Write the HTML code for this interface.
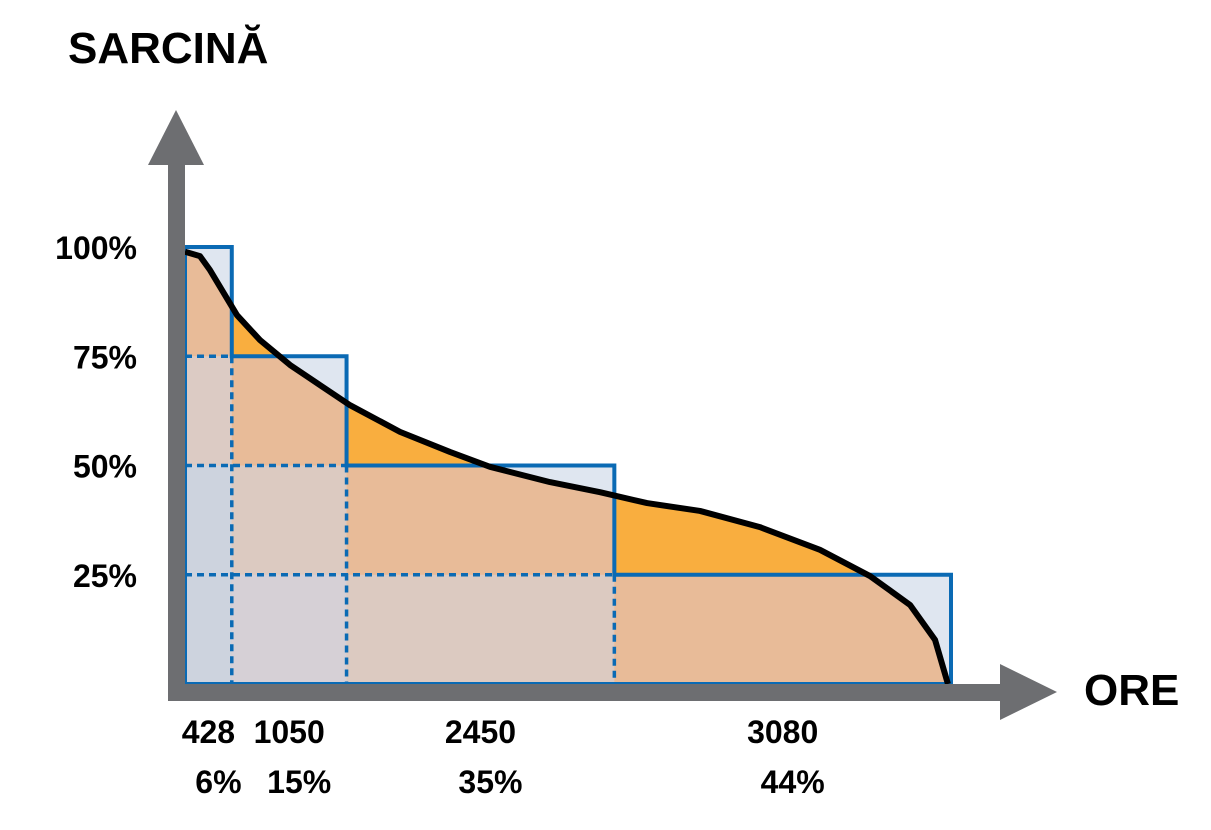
<!DOCTYPE html>
<html><head><meta charset="utf-8"><style>
body{margin:0;background:#fff;}
svg text{font-family:"Liberation Sans",sans-serif;font-weight:bold;fill:#000;}
</style></head><body>
<svg id="chart" width="1211" height="825" viewBox="0 0 1211 825" xmlns="http://www.w3.org/2000/svg">
<defs><clipPath id="stepClip"><path id="stepClipPath"/></clipPath></defs>
<g id="layer"></g>
<text x="68" y="63" font-size="44">SARCINĂ</text>
<text x="1084" y="705" font-size="44">ORE</text>
</svg>
<script>
const segHours=[428,1050,2450,3080];
const segShare=["6%","15%","35%","44%"];
const segLoad=[100,75,50,25];
const yTicks=[100,75,50,25];
const yTickLabels=["100%","75%","50%","25%"];
const curveHours=[0,137,229,476,686,961,1235,1510,1967,2424,2790,3339,3797,4227,4712,5260,5809,6267,6633,6862,6980];
const curveLoad=[98.9,97.9,94.7,84.4,78.7,73,68.4,63.8,57.7,53.1,49.7,46.2,43.9,41.4,39.6,35.9,30.7,24.7,18.1,10.1,0];

const NS="http://www.w3.org/2000/svg";
const X0=185,X1=951,Y0=684,Y100=247;
const total=segHours.reduce((a,b)=>a+b,0);
const xs=h=>X0+h/total*(X1-X0);
const ys=v=>Y0-v/100*(Y0-Y100);
const g=document.getElementById('layer');
function mk(tag,attrs){const e=document.createElementNS(NS,tag);for(const k in attrs)e.setAttribute(k,attrs[k]);g.appendChild(e);return e;}

const bounds=[0];segHours.forEach(h=>bounds.push(bounds[bounds.length-1]+h));
let sp=`M${xs(0)},${ys(0)}`;
segLoad.forEach((v,i)=>{sp+=` L${xs(bounds[i])},${ys(v)} L${xs(bounds[i+1])},${ys(v)}`;});
sp+=` L${xs(bounds[4])},${ys(0)} Z`;
document.getElementById('stepClipPath').setAttribute('d',sp);
let cp=`M${xs(0)},${ys(0)}`;
curveHours.forEach((h,i)=>{cp+=` L${xs(h)},${ys(curveLoad[i])}`;});
cp+=' Z';
let cl=curveHours.map((h,i)=>(i?'L':'M')+xs(h)+','+ys(curveLoad[i])).join(' ');

let e=mk('path',{d:sp,fill:'#dfe6f0'});

e=mk('path',{d:cp,fill:'#f9ae3f'});

e=mk('path',{d:cp,fill:'#e8bb98','clip-path':'url(#stepClip)'});


// tinted grid cells
const tints=[[0,0,75,'#dccbc4'],[0,0,50,'#cdd3de'],[1,0,50,'#dccac1'],[1,0,25,'#d6d0d6'],[2,0,25,'#dccac1']];
tints.forEach(t=>{const r=mk('rect',{x:xs(bounds[t[0]]),y:ys(t[2]),width:xs(bounds[t[0]+1])-xs(bounds[t[0]]),height:ys(t[1])-ys(t[2]),fill:t[3]});
});

// dotted lines
yTicks.slice(1).forEach((v,i)=>{const l=mk('line',{x1:X0,x2:xs(bounds[i+1]),y1:ys(v),y2:ys(v),stroke:'#0a6ab4','stroke-width':3.5,'stroke-dasharray':'7 5'});

const l2=mk('line',{x1:xs(bounds[i+1]),x2:xs(bounds[i+1]),y1:ys(v),y2:Y0,stroke:'#0a6ab4','stroke-width':3.5,'stroke-dasharray':'7 5'});
});

e=mk('path',{d:sp,fill:'none',stroke:'#0a6ab4','stroke-width':4});

e=mk('path',{d:cl,fill:'none',stroke:'#000','stroke-width':6,'stroke-linejoin':'round'});


// axes
e=mk('rect',{x:168,y:160,width:17,height:540,fill:'#6d6e71'});

e=mk('polygon',{points:'148,165 176,110 204,165',fill:'#6d6e71'});

e=mk('rect',{x:168,y:684,width:840,height:17,fill:'#6d6e71'});

e=mk('polygon',{points:'1000,664 1057,692 1000,720',fill:'#6d6e71'});


yTicks.forEach((v,i)=>{const t=mk('text',{x:137,y:ys(v)+12,'font-size':32,'text-anchor':'end'});t.textContent=yTickLabels[i];
});
segHours.forEach((h,i)=>{const cx=(xs(bounds[i])+xs(bounds[i+1]))/2;
const t=mk('text',{x:cx,y:743,'font-size':32,'text-anchor':'middle'});t.textContent=h;

const t2=mk('text',{x:cx+10,y:793,'font-size':32,'text-anchor':'middle'});t2.textContent=segShare[i];
});
</script>
</body></html>
